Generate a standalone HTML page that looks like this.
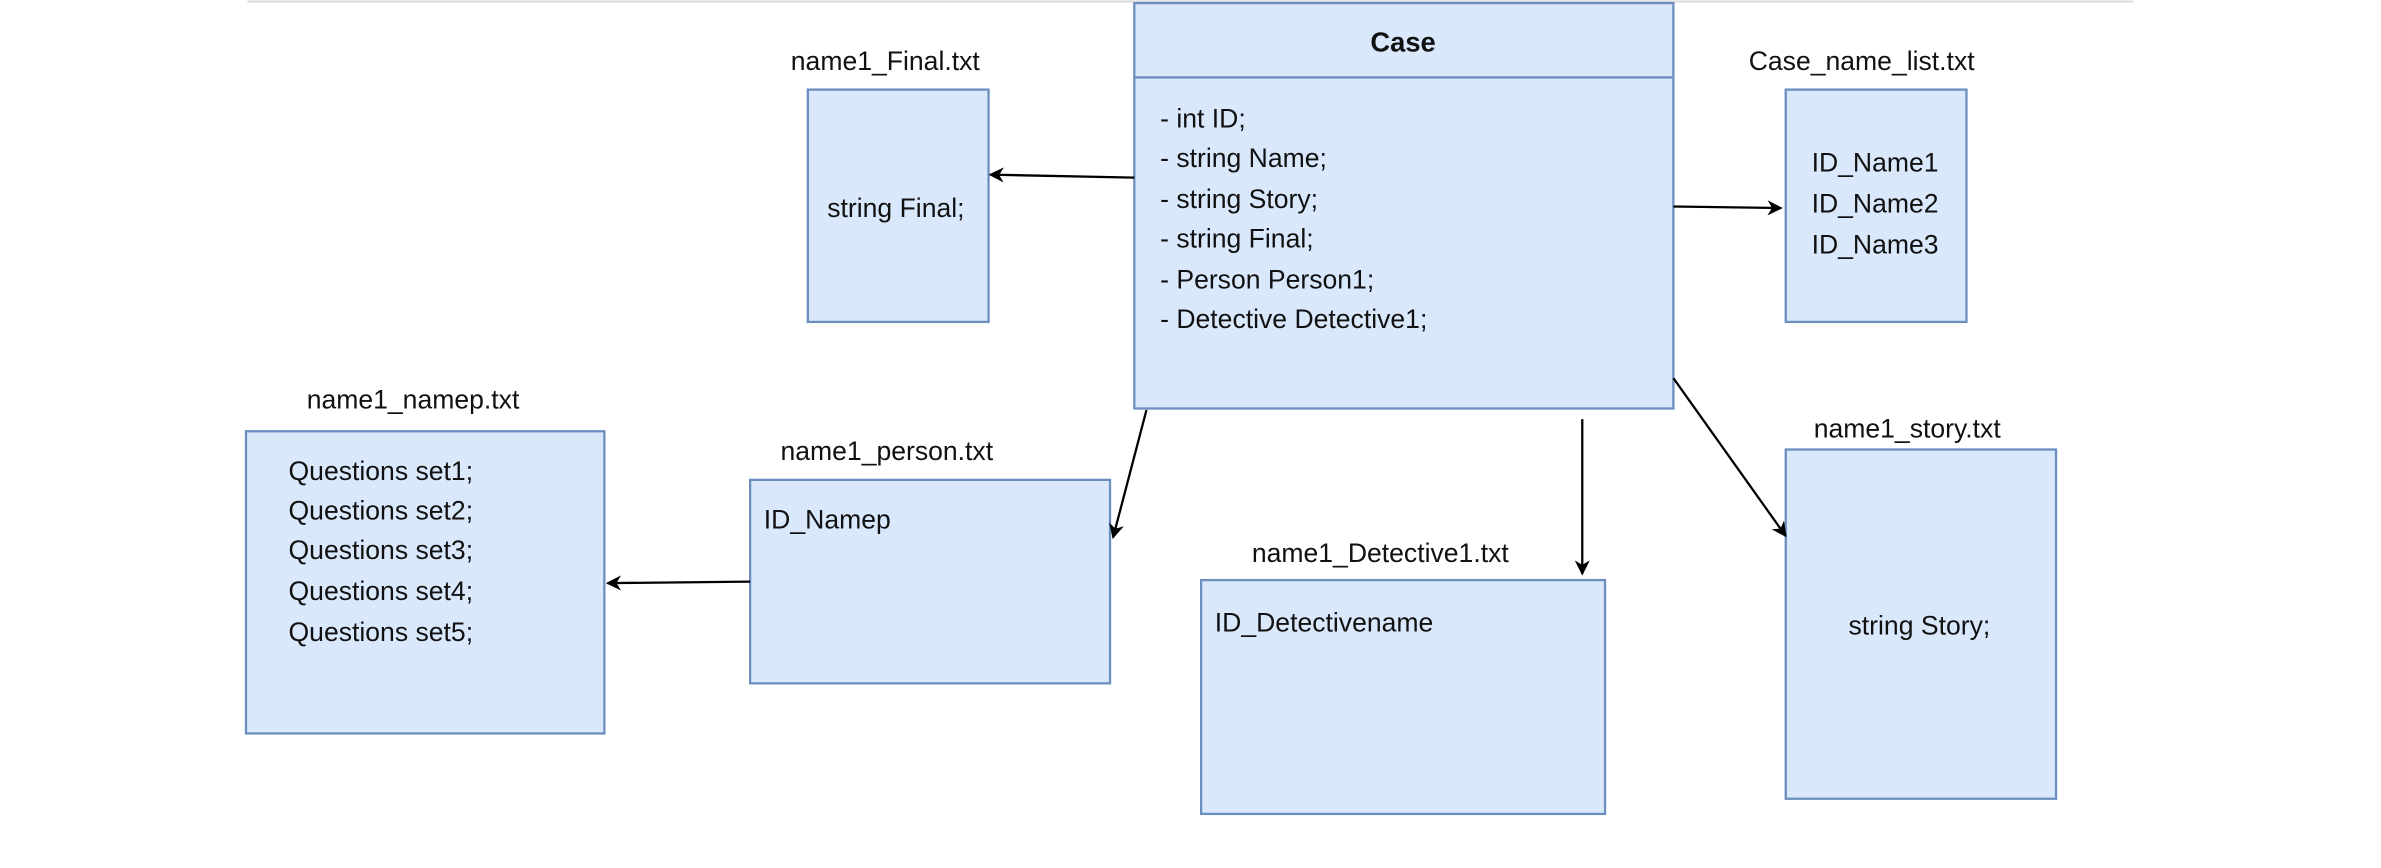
<!DOCTYPE html>
<html><head><meta charset="utf-8"><style>
html,body{margin:0;padding:0;background:#fff;}
svg{display:block;}
text{font-family:"Liberation Sans",Arial,sans-serif;fill:#111;font-size:17.5px;}
</style></head><body>
<svg width="2381" height="868" viewBox="0 0 1568 571.6" preserveAspectRatio="none" xmlns="http://www.w3.org/2000/svg">
<defs><marker id="a" markerWidth="10" markerHeight="10" refX="9" refY="5" orient="auto" markerUnits="userSpaceOnUse"><path d="M0,0 L10,5 L0,10 L3,5 Z" fill="#000"/></marker></defs>
<line x1="163" y1="1" x2="1405" y2="1" stroke="#ddd" stroke-width="1.5"/>
<g fill="#dae8fc" stroke="#6c8ebf" stroke-width="1.5">
<rect x="747" y="2" width="355" height="267"/>
<line x1="747" y1="51" x2="1102" y2="51"/>
<rect x="532" y="59" width="119" height="153"/>
<rect x="1176" y="59" width="119" height="153"/>
<rect x="162" y="284" width="236" height="199"/>
<rect x="494" y="316" width="237" height="134"/>
<rect x="791" y="382" width="266" height="154"/>
<rect x="1176" y="296" width="178" height="230"/>
</g>
<g stroke="#000" stroke-width="1.5" fill="none" marker-end="url(#a)">
<line x1="747" y1="117" x2="652" y2="115"/>
<line x1="1102" y1="136" x2="1173" y2="137"/>
<line x1="755" y1="270" x2="733" y2="354"/>
<line x1="1042" y1="276" x2="1042" y2="378"/>
<line x1="1102" y1="249" x2="1176" y2="353"/>
<line x1="494" y1="383" x2="400" y2="384"/>
</g>
<text x="924" y="34" text-anchor="middle" font-weight="bold" style="font-size:18px">Case</text>
<text x="764" y="84">- int ID;</text>
<text x="764" y="110">- string Name;</text>
<text x="764" y="137">- string Story;</text>
<text x="764" y="163">- string Final;</text>
<text x="764" y="190">- Person Person1;</text>
<text x="764" y="216">- Detective Detective1;</text>
<text x="583" y="46" text-anchor="middle">name1_Final.txt</text>
<text x="590" y="143" text-anchor="middle">string Final;</text>
<text x="1226" y="46" text-anchor="middle">Case_name_list.txt</text>
<text x="1193" y="113">ID_Name1</text>
<text x="1193" y="140">ID_Name2</text>
<text x="1193" y="167">ID_Name3</text>
<text x="272" y="269" text-anchor="middle">name1_namep.txt</text>
<text x="190" y="316">Questions set1;</text>
<text x="190" y="342">Questions set2;</text>
<text x="190" y="368">Questions set3;</text>
<text x="190" y="395">Questions set4;</text>
<text x="190" y="422">Questions set5;</text>
<text x="584" y="303" text-anchor="middle">name1_person.txt</text>
<text x="503" y="348">ID_Namep</text>
<text x="909" y="370" text-anchor="middle">name1_Detective1.txt</text>
<text x="800" y="416">ID_Detectivename</text>
<text x="1256" y="288" text-anchor="middle">name1_story.txt</text>
<text x="1264" y="418" text-anchor="middle">string Story;</text>
</svg>
</body></html>
